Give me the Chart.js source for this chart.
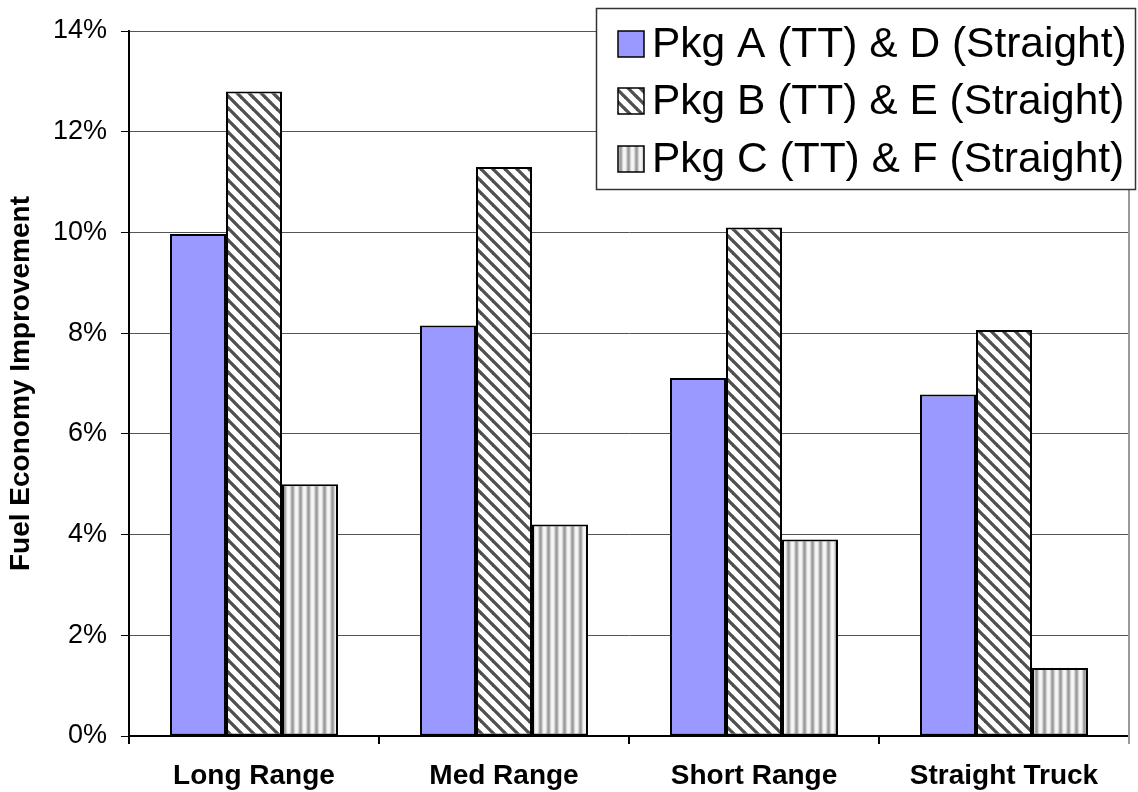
<!DOCTYPE html>
<html>
<head>
<meta charset="utf-8">
<script src="https://cdn.jsdelivr.net/npm/chart.js@4.4.1/dist/chart.umd.min.js"></script>
<style>
  html, body { margin:0; padding:0; background:#fff; }
  #wrap { width:1138px; height:792px; }
</style>
</head>
<body>
<div id="wrap"><canvas id="c" width="1138" height="792"></canvas></div>
<script>
// chart data
const categories = ["Long Range", "Med Range", "Short Range", "Straight Truck"];
const seriesNames = ["Pkg A (TT) & D (Straight)", "Pkg B (TT) & E (Straight)", "Pkg C (TT) & F (Straight)"];
const pkgA = [9.97, 8.15, 7.11, 6.78];
const pkgB = [12.8, 11.3, 10.1, 8.06];
const pkgC = [5.0, 4.2, 3.9, 1.35];
const yTicks = [0, 2, 4, 6, 8, 10, 12, 14];

const FONT = '"Liberation Sans", Arial, sans-serif';

// --- fill patterns ---
function hatchPattern(){
  const s = 12, cv = document.createElement('canvas');
  cv.width = s; cv.height = s;
  const g = cv.getContext('2d');
  g.fillStyle = '#fff'; g.fillRect(0,0,s,s);
  g.strokeStyle = '#505050'; g.lineWidth = 3.3;
  for (const off of [-s, 0, s]) {
    g.beginPath(); g.moveTo(off - 1, -1); g.lineTo(off + s + 1, s + 1); g.stroke();
  }
  return g.createPattern(cv, 'repeat');
}
function stripePattern(){
  const cols = ['#f6f6f6','#f0f0f0','#d6d6d6','#ababab','#9c9c9c','#ababab','#d6d6d6','#f0f0f0'];
  const cv = document.createElement('canvas');
  cv.width = cols.length; cv.height = 4;
  const g = cv.getContext('2d');
  cols.forEach((c,i)=>{ g.fillStyle = c; g.fillRect(i,0,1,4); });
  return g.createPattern(cv, 'repeat');
}
const fills = ['#9999FF', hatchPattern(), stripePattern()];

// legend box drawn on top of the plot, like the original
const legendBox = {
  id: 'legendBox',
  afterDraw(ch){
    const ctx = ch.ctx;
    ctx.save();
    // right plot border
    ctx.strokeStyle = '#999'; ctx.lineWidth = 2;
    ctx.beginPath(); ctx.moveTo(ch.chartArea.right, ch.chartArea.top); ctx.lineTo(ch.chartArea.right, ch.chartArea.bottom + 8); ctx.stroke();

    const x0 = 596, y0 = 8, x1 = 1136, y1 = 190;
    ctx.fillStyle = '#fff'; ctx.fillRect(x0, y0, x1 - x0, y1 - y0);
    ctx.strokeStyle = '#333'; ctx.lineWidth = 1.5;
    ctx.strokeRect(x0 + 0.5, y0 + 0.5, x1 - x0 - 1, y1 - y0 - 1);
    const rows = [44, 101, 159];
    ctx.font = '42.5px ' + FONT;
    ctx.textBaseline = 'middle';
    rows.forEach((cy, i) => {
      ctx.fillStyle = fills[i];
      ctx.fillRect(618, cy - 13, 26, 26);
      ctx.strokeStyle = '#000'; ctx.lineWidth = 1.5;
      ctx.strokeRect(618, cy - 13, 26, 26);
      ctx.fillStyle = '#000';
      ctx.fillText(seriesNames[i], 652, cy + 1);
    });
    ctx.restore();
  }
};

const data = [pkgA, pkgB, pkgC];
new Chart(document.getElementById('c'), {
  type: 'bar',
  data: {
    labels: categories,
    datasets: data.map((d, i) => ({
      label: seriesNames[i],
      data: d,
      backgroundColor: fills[i],
      borderColor: '#000',
      borderWidth: 2,
      borderSkipped: false,
      categoryPercentage: 0.672,
      barPercentage: 1.0
    }))
  },
  options: {
    responsive: false,
    animation: false,
    layout: { padding: { top: 31, right: 9, left: 0, bottom: 0 } },
    plugins: { legend: { display: false }, tooltip: { enabled: false } },
    scales: {
      x: {
        grid: { display: true, drawOnChartArea: false, drawTicks: true, tickLength: 8, color: '#000', lineWidth: 2 },
        border: { display: true, color: '#000', width: 2 },
        ticks: { color: '#000', font: { family: FONT, size: 28, weight: 'bold' }, padding: 15, maxRotation: 0, autoSkip: false },
        afterFit(s){ s.height = 56; }
      },
      y: {
        min: 0, max: 14,
        afterBuildTicks(s){ s.ticks = yTicks.map(v => ({ value: v })); },
        grid: { color: '#555', lineWidth: 1, tickLength: 8, tickColor: '#000' },
        border: { display: true, color: '#000', width: 2 },
        ticks: { color: '#000', font: { family: FONT, size: 27 }, padding: 14, callback: v => v + '%' },
        title: { display: true, text: 'Fuel Economy Improvement', color: '#000',
                 font: { family: FONT, size: 28, weight: 'bold' }, padding: { top: 4, bottom: 0 } },
        afterFit(s){ s.width = 129; }
      }
    }
  },
  plugins: [legendBox]
});
</script>
</body>
</html>
